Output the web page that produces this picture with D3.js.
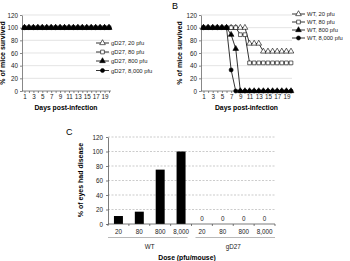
<!DOCTYPE html>
<html>
<head>
<meta charset="utf-8">
<script src="https://cdn.jsdelivr.net/npm/d3@7"></script>
<style>
  body { margin: 0; background: #fff; }
  svg { display: block; font-family: "Liberation Sans", Arial, sans-serif; }
</style>
</head>
<body>
<svg id="chart" width="350" height="261"></svg>
<script>
// survival data, days 1..20
const days = [1,2,3,4,5,6,7,8,9,10,11,12,13,14,15,16,17,18,19,20];
const dayLabels = [1,3,5,7,9,11,13,15,17,19];
const survTicks = [0,20,40,60,80,100,120];

const gd27_20   = [100,100,100,100,100,100,100,100,100,100,100,100,100,100,100,100,100,100,100,100];
const gd27_80   = [100,100,100,100,100,100,100,100,100,100,100,100,100,100,100,100,100,100,100,100];
const gd27_800  = [100,100,100,100,100,100,100,100,100,100,100,100,100,100,100,100,100,100,100,100];
const gd27_8000 = [100,100,100,100,100,100,100,100,100,100,100,100,100,100,100,100,100,100,100,100];

const wt_20   = [100,100,100,100,100,100,100,100,100,100,75,75,75,62.5,62.5,62.5,62.5,62.5,62.5,62.5];
const wt_80   = [100,100,100,100,100,100,100,100,88.9,88.9,44.4,44.4,44.4,44.4,44.4,44.4,44.4,44.4,44.4,44.4];
const wt_800  = [100,100,100,100,100,100,88.9,66.7,0,0,0,0,0,0,0,0,0,0,0,0];
const wt_8000 = [100,100,100,100,100,100,33.3,0,0,0,0,0,0,0,0,0,0,0,0,0];

// disease data
const doses = ['20','80','800','8,000'];
const groups = ['WT','gD27'];
const wtDisease = [11,17,75,100];
const gdDisease = [0,0,0,0];
const diseaseTicks = [0,20,40,60,80,100,120];

const svg = d3.select('#chart');
const font = 'Liberation Sans, Arial, sans-serif';

const symbols = [
  { type: d3.symbolTriangle, fill: '#fff' },
  { type: d3.symbolSquare,   fill: '#fff' },
  { type: d3.symbolTriangle, fill: '#000' },
  { type: d3.symbolCircle,   fill: '#000' }
];

function survivalPanel(opt) {
  const g = svg.append('g');
  const x = d3.scaleLinear().domain([1, 20]).range([opt.x0 + 2.5, opt.x1 - 1]);
  const y = d3.scaleLinear().domain([0, 120]).range([91, 15]);

  // gridlines
  g.selectAll('.grid')
    .data(survTicks.slice(1))
    .join('line')
      .attr('x1', opt.x0).attr('x2', opt.x1)
      .attr('y1', d => y(d)).attr('y2', d => y(d))
      .attr('stroke', '#d9d9d9').attr('stroke-width', 0.7);

  // y axis
  const ya = g.append('g')
    .attr('transform', `translate(${opt.x0},0)`)
    .call(d3.axisLeft(y).tickValues(survTicks).tickSize(2).tickSizeOuter(0).tickPadding(2));
  ya.selectAll('text').style('font-size', '6.3px').style('font-family', font).attr('fill', '#222');
  ya.selectAll('line, path').attr('stroke', '#555').attr('stroke-width', 0.7);

  // x axis
  const xa = g.append('g')
    .attr('transform', `translate(0,${y(0)})`)
    .call(d3.axisBottom(x).tickValues(days).tickSize(2).tickSizeOuter(0).tickPadding(2)
      .tickFormat(d => dayLabels.includes(d) ? d : ''));
  xa.select('.domain').remove();
  xa.append('line').attr('x1', opt.x0).attr('x2', opt.x1 + 1).attr('stroke', '#555').attr('stroke-width', 0.7);
  xa.selectAll('line').attr('stroke', '#555').attr('stroke-width', 0.7);
  xa.selectAll('text').style('font-size', '6.3px').style('font-family', font).attr('fill', '#222');

  // axis titles
  g.append('text')
    .attr('x', (opt.x0 + opt.x1) / 2).attr('y', 110)
    .attr('text-anchor', 'middle')
    .style('font-size', '6.8px').style('font-weight', 'bold').style('font-family', font)
    .text('Days post-infection');
  g.append('text')
    .attr('transform', `translate(${opt.ytx},53) rotate(-90)`)
    .attr('text-anchor', 'middle')
    .style('font-size', '7px').style('font-weight', 'bold').style('font-family', font)
    .text('% of mice survived');

  // series
  const line = d3.line().x((d, i) => x(days[i])).y(d => y(d));
  opt.series.forEach((s, k) => {
    g.append('path').datum(s.values)
      .attr('d', line).attr('fill', 'none')
      .attr('stroke', '#000').attr('stroke-width', 0.8);
    g.selectAll(null).data(s.values).join('path')
      .attr('transform', (d, i) => `translate(${x(days[i])},${y(d)})`)
      .attr('d', d3.symbol().type(symbols[k].type).size(k === 3 ? 13 : 14))
      .attr('fill', symbols[k].fill).attr('stroke', '#000').attr('stroke-width', 0.6);
  });

  // legend
  const lg = g.append('g').attr('transform', `translate(${opt.lx},0)`);
  opt.series.forEach((s, k) => {
    const ly = opt.ly[k];
    lg.append('line').attr('x1', 0).attr('x2', 13).attr('y1', ly).attr('y2', ly)
      .attr('stroke', '#000').attr('stroke-width', 0.8);
    lg.append('path').attr('transform', `translate(6.5,${ly})`)
      .attr('d', d3.symbol().type(symbols[k].type).size(k === 3 ? 13 : 14))
      .attr('fill', symbols[k].fill).attr('stroke', '#000').attr('stroke-width', 0.6);
    lg.append('text').attr('x', 15).attr('y', ly + 2)
      .style('font-size', '5.8px').style('font-family', font).attr('fill', '#222')
      .text(s.name);
  });
}

survivalPanel({
  x0: 22, x1: 110, ytx: 4.5, lx: 96, ly: [43, 52, 61, 70.5],
  series: [
    { name: 'gD27, 20 pfu', values: gd27_20 },
    { name: 'gD27, 80 pfu', values: gd27_80 },
    { name: 'gD27, 800 pfu', values: gd27_800 },
    { name: 'gD27, 8,000 pfu', values: gd27_8000 }
  ]
});

survivalPanel({
  x0: 201, x1: 292, ytx: 181.5, lx: 292, ly: [14, 22, 30, 38],
  series: [
    { name: 'WT, 20 pfu', values: wt_20 },
    { name: 'WT, 80 pfu', values: wt_80 },
    { name: 'WT, 800 pfu', values: wt_800 },
    { name: 'WT, 8,000 pfu', values: wt_8000 }
  ]
});

svg.append('text').attr('x', 172).attr('y', 9)
  .style('font-size', '9px').style('font-family', font).text('B');

// panel C
const cats = [];
groups.forEach(gr => doses.forEach(d => cats.push(gr + '|' + d)));
const values = wtDisease.concat(gdDisease);

const xc = d3.scaleBand().domain(cats).range([108, 275]).paddingInner(0.57).paddingOuter(0.285);
const yc = d3.scaleLinear().domain([0, 120]).range([224, 137]);

const c = svg.append('g');

c.selectAll('.grid')
  .data(diseaseTicks.slice(1))
  .join('line')
    .attr('x1', 108).attr('x2', 275)
    .attr('y1', d => yc(d)).attr('y2', d => yc(d))
    .attr('stroke', '#aaa').attr('stroke-width', 0.6).attr('stroke-dasharray', '2,1.5');

const yca = c.append('g').attr('transform', 'translate(108,0)')
  .call(d3.axisLeft(yc).tickValues(diseaseTicks).tickSize(2).tickSizeOuter(0).tickPadding(3));
yca.selectAll('text').style('font-size', '6.3px').style('font-family', font).attr('fill', '#222');
yca.selectAll('line, path').attr('stroke', '#444').attr('stroke-width', 0.7);

c.selectAll('.bar')
  .data(values)
  .join('rect')
    .attr('x', (d, i) => xc(cats[i]))
    .attr('width', xc.bandwidth())
    .attr('y', d => yc(d))
    .attr('height', d => yc(0) - yc(d))
    .attr('fill', '#000');

// zero labels
c.selectAll('.zero')
  .data(values.map((v, i) => ({ v, i })).filter(d => d.v === 0))
  .join('text')
    .attr('x', d => xc(cats[d.i]) + xc.bandwidth() / 2)
    .attr('y', d => yc(d.v) - 3)
    .attr('text-anchor', 'middle')
    .style('font-size', '6.3px').style('font-family', font).attr('fill', '#222')
    .text(d => d.v);

// x axis: ticks at band boundaries
const bounds = d3.range(cats.length + 1).map(i => 108 + i * xc.step());
c.append('line').attr('x1', 108).attr('x2', 275).attr('y1', yc(0)).attr('y2', yc(0))
  .attr('stroke', '#444').attr('stroke-width', 0.7);
c.selectAll('.xt').data(bounds).join('line')
  .attr('x1', d => d).attr('x2', d => d).attr('y1', yc(0)).attr('y2', yc(0) + 2)
  .attr('stroke', '#444').attr('stroke-width', 0.7);

c.selectAll('.dose').data(cats).join('text')
  .attr('x', d => xc(d) + xc.bandwidth() / 2)
  .attr('y', 234)
  .attr('text-anchor', 'middle')
  .style('font-size', '6.3px').style('font-family', font).attr('fill', '#222')
  .text(d => d.split('|')[1]);

groups.forEach((gr, k) => {
  const a = 108 + k * 4 * xc.step();
  const b = a + 4 * xc.step();
  c.append('line').attr('x1', a + (k ? 4 : 0)).attr('x2', b - (k ? 0 : 4))
    .attr('y1', 237.5).attr('y2', 237.5)
    .attr('stroke', '#888').attr('stroke-width', 0.6);
  c.append('text').attr('x', (a + b) / 2).attr('y', 248.5)
    .attr('text-anchor', 'middle')
    .style('font-size', '6.3px').style('font-family', font).attr('fill', '#222')
    .text(gr);
});

c.append('text').attr('x', 187).attr('y', 259.5)
  .attr('text-anchor', 'middle')
  .style('font-size', '6.8px').style('font-weight', 'bold').style('font-family', font)
  .text('Dose (pfu/mouse)');

c.append('text')
  .attr('transform', 'translate(83,180) rotate(-90)')
  .attr('text-anchor', 'middle')
  .style('font-size', '7px').style('font-weight', 'bold').style('font-family', font)
  .text('% of eyes had disease');

svg.append('text').attr('x', 66).attr('y', 135)
  .style('font-size', '9px').style('font-family', font).text('C');
</script>
</body>
</html>
